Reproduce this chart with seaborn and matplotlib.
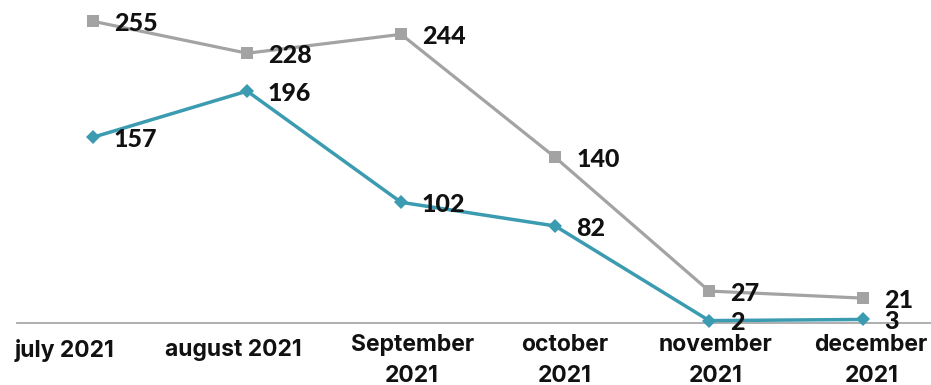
import matplotlib
matplotlib.use("Agg")
import matplotlib.pyplot as plt
import matplotlib.transforms as mtransforms
import pandas as pd
import seaborn as sns

# Monthly counts, July to December 2021
months = ["july 2021", "august 2021", "September\n2021", "october\n2021",
          "november\n2021", "december\n2021"]
upper_series = [255, 228, 244, 140, 27, 21]
lower_series = [157, 196, 102, 82, 2, 3]

sns.set_theme(style="white")
plt.rcParams["font.family"] = ["Inter", "DejaVu Sans"]

fig = plt.figure(figsize=(9.31, 3.85), dpi=100)
ax = fig.add_axes([17 / 931, 62 / 385, 1 - 17 / 931, 1 - 62 / 385])

pos = list(range(len(months)))
df_upper = pd.DataFrame({"x": pos, "y": upper_series})
df_lower = pd.DataFrame({"x": pos, "y": lower_series})

gray = "#A3A3A3"
teal = "#3B9BB0"

sns.lineplot(data=df_upper, x="x", y="y", ax=ax, color=gray, linewidth=2.3,
             marker="s", markersize=9, markeredgewidth=0, clip_on=False,
             zorder=3)
sns.lineplot(data=df_lower, x="x", y="y", ax=ax, color=teal, linewidth=2.5,
             marker="D", markersize=7, markeredgewidth=0, clip_on=False,
             zorder=4)

label_font = dict(family=["Lato", "DejaVu Sans"], fontweight="black",
                  fontsize=18, color="#111111")
for xi, v in zip(pos, upper_series):
    ax.annotate(str(v), (xi, v), xytext=(15, -1.5), textcoords="offset points",
                ha="left", va="center", zorder=5, **label_font)
for xi, v in zip(pos, lower_series):
    ax.annotate(str(v), (xi, v), xytext=(15, -1.5), textcoords="offset points",
                ha="left", va="center", zorder=5, **label_font)

ax.set_xlim(-0.494, 5.44)
ax.set_ylim(0, 273)
ax.set_xlabel("")
ax.set_ylabel("")
ax.set_yticks([])
ax.set_xticks(pos)
ax.set_xticklabels(months, fontsize=16.5, fontweight="bold", color="#111111",
                   linespacing=1.5)
ax.tick_params(axis="x", length=0, pad=8)

# nudge each month label horizontally
shifts_px = [-29, -14, 11, 10, 6, 8]
for lbl, dx in zip(ax.get_xticklabels(), shifts_px):
    off = mtransforms.ScaledTranslation(dx / 100, 0, fig.dpi_scale_trans)
    lbl.set_transform(lbl.get_transform() + off)
    if "\n" not in lbl.get_text():
        off2 = mtransforms.ScaledTranslation(0, -5 / 100, fig.dpi_scale_trans)
        lbl.set_transform(lbl.get_transform() + off2)

for side in ["top", "left", "right"]:
    ax.spines[side].set_visible(False)
ax.spines["bottom"].set_color("#A8A8A8")
ax.spines["bottom"].set_linewidth(1.3)

fig.savefig("out.png", dpi=100)
